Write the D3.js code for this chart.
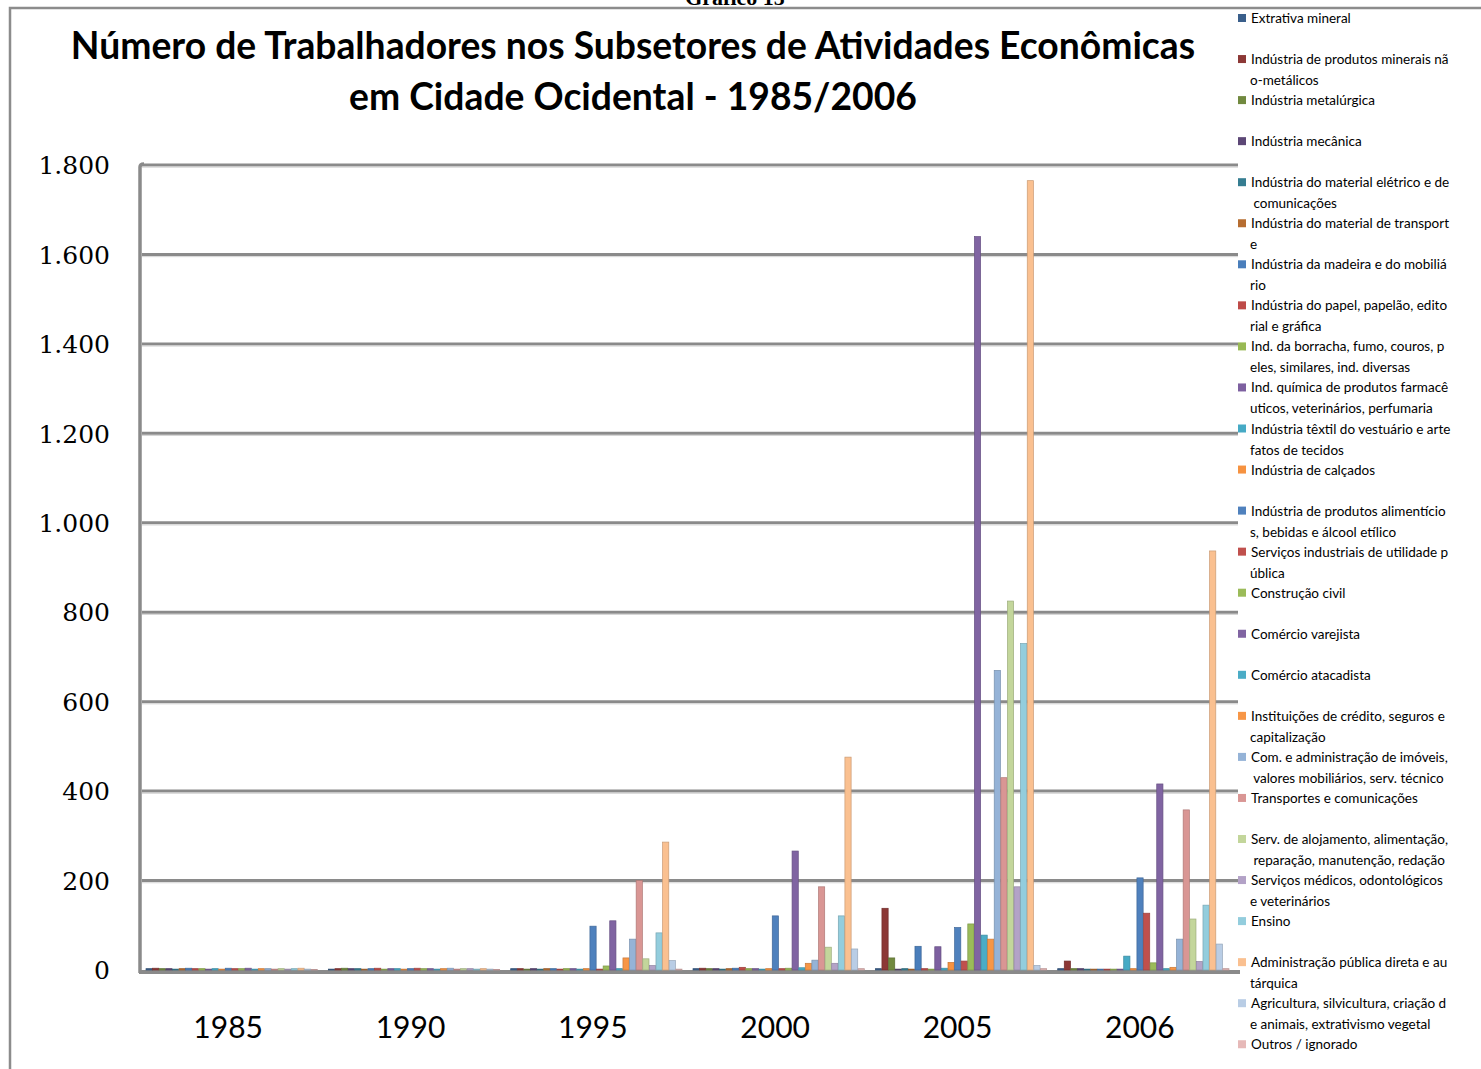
<!DOCTYPE html>
<html lang="pt">
<head>
<meta charset="utf-8">
<title>Número de Trabalhadores - Cidade Ocidental</title>
<style>
body { margin: 0; background: #fff; }
svg text { fill: #000; }
.ytick text { font: 25px "DejaVu Serif", serif; }
.xtick text { font: 30px Lato, "Open Sans", sans-serif; }
.legend text { font: 13.5px Lato, "Open Sans", sans-serif; }
</style>
</head>
<body>
<div id="chart"></div>
<script src="https://d3js.org/d3.v7.min.js"></script>
<script>

var categories = ['1985', '1990', '1995', '2000', '2005', '2006'];

// one entry per series, with the line breaks the legend uses
var seriesNames = [
  ['Extrativa mineral'],
  ['Indústria de produtos minerais nã', 'o-metálicos'],
  ['Indústria metalúrgica'],
  ['Indústria mecânica'],
  ['Indústria do material elétrico e de', ' comunicações'],
  ['Indústria do material de transport', 'e'],
  ['Indústria da madeira e do mobiliá', 'rio'],
  ['Indústria do papel, papelão, edito', 'rial e gráfica'],
  ['Ind. da borracha, fumo, couros, p', 'eles, similares, ind. diversas'],
  ['Ind. química de produtos farmacê', 'uticos, veterinários, perfumaria'],
  ['Indústria têxtil do vestuário e arte', 'fatos de tecidos'],
  ['Indústria de calçados'],
  ['Indústria de produtos alimentício', 's, bebidas e álcool etílico'],
  ['Serviços industriais de utilidade p', 'ública'],
  ['Construção civil'],
  ['Comércio varejista'],
  ['Comércio atacadista'],
  ['Instituições de crédito, seguros e', 'capitalização'],
  ['Com. e administração de imóveis,', ' valores mobiliários, serv. técnico'],
  ['Transportes e comunicações'],
  ['Serv. de alojamento, alimentação,', ' reparação, manutenção, redação'],
  ['Serviços médicos, odontológicos', 'e veterinários'],
  ['Ensino'],
  ['Administração pública direta e au', 'tárquica'],
  ['Agricultura, silvicultura, criação d', 'e animais, extrativismo vegetal'],
  ['Outros / ignorado']
];

var seriesColors = [
  '#3a5f8b', '#8c3836', '#71893f', '#5c4776', '#357d91', '#b66d31',
  '#4a7ebb', '#be4b48', '#98b954', '#7d60a0', '#46aac5', '#f69240',
  '#4f81bd', '#c0504d', '#9bbb59', '#8064a2', '#4bacc6', '#f79646',
  '#95b3d7', '#d99694', '#c3d69b', '#b3a2c7', '#93cddd', '#fac090',
  '#b9cde5', '#e6b9b8'
];

// values per year, in series order
var v1985 = [3, 4, 3, 3, 2, 3, 4, 3, 3, 2, 3, 2, 4, 3, 3, 4, 2, 3, 3, 2, 3, 2, 3, 4, 2, 1];
var v1990 = [2, 3, 4, 3, 3, 2, 3, 4, 2, 3, 3, 2, 3, 4, 3, 3, 2, 3, 4, 2, 3, 3, 2, 3, 2, 1];
var v1995 = [3, 3, 2, 3, 2, 3, 3, 2, 3, 3, 2, 3, 98, 2, 9, 110, 3, 27, 69, 200, 25, 10, 83, 286, 21, 2];
var v2000 = [3, 4, 3, 3, 2, 3, 4, 6, 3, 3, 2, 3, 121, 3, 4, 266, 5, 15, 22, 186, 51, 15, 121, 476, 47, 3];
var v2005 = [3, 138, 27, 2, 3, 2, 53, 3, 2, 52, 4, 17, 95, 20, 103, 1640, 78, 69, 670, 430, 825, 186, 730, 1765, 10, 3];
var v2006 = [3, 20, 3, 3, 2, 2, 2, 2, 2, 2, 31, 3, 206, 127, 16, 416, 3, 6, 69, 358, 114, 19, 145, 937, 58, 3];

var yTicks = [0, 200, 400, 600, 800, 1000, 1200, 1400, 1600, 1800];

var yearValues = [v1985, v1990, v1995, v2000, v2005, v2006];

var W = 1481, H = 1069;
var plot = { left: 137, right: 1231, top: 165, bottom: 970 };

var svg = d3.select('#chart').append('svg')
  .attr('width', W).attr('height', H);

// outer frame
svg.append('path')
  .attr('d', 'M10,' + H + ' V8 H' + W)
  .attr('fill', 'none').attr('stroke', '#8c8c8c').attr('stroke-width', 2.5);

svg.append('text')
  .attr('x', 735).attr('y', 5)
  .attr('text-anchor', 'middle')
  .style('font', 'bold 22px "Liberation Serif", serif')
  .text('Gráfico 15');

// title
var titleLines = ['Número de Trabalhadores nos Subsetores de Atividades Econômicas',
                  'em Cidade Ocidental - 1985/2006'];
var title = svg.append('g');
title.selectAll('text').data(titleLines).enter().append('text')
  .attr('x', 633)
  .attr('y', function(d, i) { return 59 + i * 51; })
  .attr('text-anchor', 'middle')
  .style('font', 'bold 31px Lato, "Open Sans", sans-serif')
  .text(function(d) { return d; });
// fit the first line to the width seen in the picture
var t0 = title.select('text').node();
var fit = 1125 / t0.getComputedTextLength();
title.selectAll('text').style('font-size', (31 * fit) + 'px');

var y = d3.scaleLinear().domain([0, 1800]).range([plot.bottom, plot.top]);
var x0 = d3.scaleBand().domain(categories).range([plot.left, plot.right]);
var x1 = d3.scaleBand().domain(d3.range(seriesNames.length))
  .range([9, x0.bandwidth() - 2]).paddingInner(0.06);

// gridlines
var grid = svg.append('g');
grid.selectAll('line.g').data(yTicks.slice(1)).enter().append('line')
  .attr('x1', plot.left + 5).attr('x2', 1238)
  .attr('y1', function(d) { return y(d); }).attr('y2', function(d) { return y(d); })
  .attr('stroke', '#8a8a8a').attr('stroke-width', 3);
grid.selectAll('line.h').data(yTicks.slice(1)).enter().append('line')
  .attr('x1', plot.left + 5).attr('x2', 1238)
  .attr('y1', function(d) { return y(d) + 2.2; }).attr('y2', function(d) { return y(d) + 2.2; })
  .attr('stroke', '#d4d4d4').attr('stroke-width', 1);

// left wall and floor
svg.append('path')
  .attr('d', 'M' + (plot.left + 3) + ',' + (plot.bottom + 3) + ' V' + (plot.top + 2) +
             ' Q' + (plot.left + 3) + ',' + (plot.top - 1) + ' ' + (plot.left + 7) + ',' + (plot.top - 1))
  .attr('fill', 'none').attr('stroke', '#8a8a8a').attr('stroke-width', 3.5);
svg.append('line')
  .attr('x1', plot.left + 2).attr('x2', 1240)
  .attr('y1', plot.bottom + 2).attr('y2', plot.bottom + 2)
  .attr('stroke', '#8a8a8a').attr('stroke-width', 4);

// y axis labels
var yAxis = svg.append('g').attr('class', 'ytick')
  .attr('transform', 'translate(110,0)')
  .call(d3.axisLeft(y).tickValues(yTicks).tickSize(0).tickPadding(0)
    .tickFormat(function(d) { return d3.format(',')(d).replace(/,/g, '.'); }));
yAxis.select('.domain').remove();
yAxis.selectAll('text').attr('dy', '0.35em');

// x axis labels
var xAxis = svg.append('g').attr('class', 'xtick')
  .attr('transform', 'translate(0,1038)')
  .call(d3.axisBottom(x0).tickSize(0).tickPadding(0));
xAxis.select('.domain').remove();
xAxis.selectAll('text').attr('dy', 0);

// bars
var groups = svg.append('g').selectAll('g').data(categories).enter().append('g')
  .attr('transform', function(d) { return 'translate(' + x0(d) + ',0)'; });

groups.selectAll('rect')
  .data(function(d, gi) {
    return yearValues[gi].map(function(v, si) { return { s: si, v: v }; });
  })
  .enter().append('rect')
  .attr('x', function(d) { return x1(d.s); })
  .attr('width', x1.bandwidth())
  .attr('y', function(d) { return y(d.v); })
  .attr('height', function(d) { return plot.bottom - y(d.v); })
  .attr('fill', function(d) { return seriesColors[d.s]; })
  .attr('stroke', function(d) { return d3.color(seriesColors[d.s]).darker(0.6); })
  .attr('stroke-width', 0.7);

// legend
var legend = svg.append('g').attr('class', 'legend')
  .selectAll('g').data(seriesNames).enter().append('g')
  .attr('transform', function(d, i) { return 'translate(1238,' + (18 + i * 41.05) + ')'; });

legend.append('rect')
  .attr('x', 0).attr('y', -4).attr('width', 8).attr('height', 8)
  .attr('fill', function(d, i) { return seriesColors[i]; });

legend.each(function(lines) {
  var g = d3.select(this);
  lines.forEach(function(line, li) {
    var t = g.append('text')
      .attr('x', li === 0 ? 13 : 12)
      .attr('y', 5 + li * 21)
      .attr('xml:space', 'preserve')
      .text(line);
    var len = t.node().getComputedTextLength();
    if (len > 229) t.attr('textLength', 229).attr('lengthAdjust', 'spacingAndGlyphs');
  });
});
</script>
</body>
</html>
